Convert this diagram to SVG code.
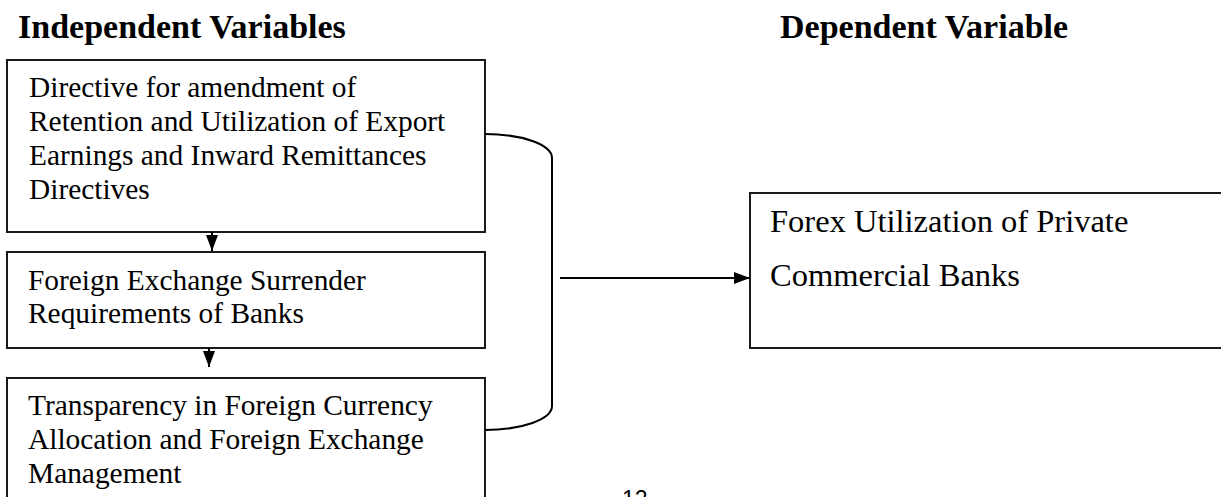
<svg xmlns="http://www.w3.org/2000/svg" width="1221" height="497" viewBox="0 0 1221 497">
  <defs>
    <style>
      .title { font-family: "Liberation Serif", "Times New Roman", serif; font-weight: bold; font-size: 34px; fill: #000; }
      .label { font-family: "Liberation Serif", "Times New Roman", serif; font-size: 29.4px; fill: #000; }
      .dep { font-family: "Liberation Serif", "Times New Roman", serif; font-size: 32.5px; fill: #000; }
      .page { font-family: "Liberation Sans", Arial, sans-serif; font-size: 23px; fill: #000; }
      .box { fill: #fff; stroke: #1a1a1a; stroke-width: 2; }
      .wire { fill: none; stroke: #000; stroke-width: 2; }
    </style>
    <marker id="head" viewBox="0 0 16 12" refX="16" refY="6" markerWidth="16" markerHeight="12" markerUnits="userSpaceOnUse" orient="auto">
      <path d="M0,0 L16,6 L0,12 Z" fill="#000"/>
    </marker>
  </defs>

  <rect width="1221" height="497" fill="#fff"/>

  <!-- column headings -->
  <text class="title" x="18" y="38">Independent Variables</text>
  <text class="title" x="780" y="38">Dependent Variable</text>

  <!-- independent variable boxes -->
  <g id="directive">
    <rect class="box" x="7" y="60" width="478" height="172"/>
    <text class="label" x="29" y="97">Directive for amendment of</text>
    <text class="label" x="29" y="131">Retention and Utilization of Export</text>
    <text class="label" x="29" y="165">Earnings and Inward Remittances</text>
    <text class="label" x="29" y="199">Directives</text>
  </g>

  <g id="surrender">
    <rect class="box" x="7" y="252" width="478" height="96"/>
    <text class="label" x="28" y="290">Foreign Exchange Surrender</text>
    <text class="label" x="28" y="323">Requirements of Banks</text>
  </g>

  <g id="transparency">
    <rect class="box" x="7" y="378" width="478" height="130"/>
    <text class="label" x="28" y="415">Transparency in Foreign Currency</text>
    <text class="label" x="28" y="449">Allocation and Foreign Exchange</text>
    <text class="label" x="28" y="483">Management</text>
  </g>

  <!-- dependent variable box -->
  <g id="forex">
    <rect class="box" x="750" y="193" width="480" height="155"/>
    <text class="dep" x="770" y="232">Forex Utilization of Private</text>
    <text class="dep" x="770" y="286">Commercial Banks</text>
  </g>

  <!-- connectors -->
  <g id="connectors">
    <line class="wire" x1="212" y1="232" x2="212" y2="251" marker-end="url(#head)"/>
    <line class="wire" x1="209" y1="348" x2="209" y2="367" marker-end="url(#head)"/>
    <path class="wire" d="M485,134 A67,24 0 0 1 552,158 V406 A67,24 0 0 1 485,430"/>
    <line class="wire" x1="560" y1="278" x2="750" y2="278" marker-end="url(#head)"/>
  </g>

  <!-- page number -->
  <text class="page" x="622" y="507">12</text>
</svg>
